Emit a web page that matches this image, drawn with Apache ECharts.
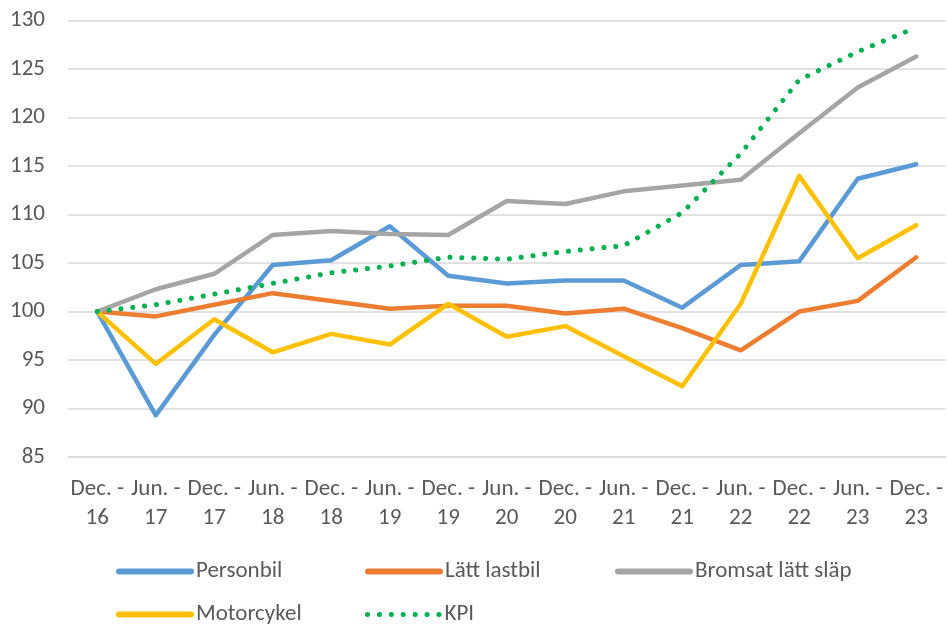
<!DOCTYPE html>
<html>
<head>
<meta charset="utf-8">
<title>Index</title>
<script src="https://cdn.jsdelivr.net/npm/echarts@6/dist/echarts.min.js"></script>
<style>
	html, body { margin: 0; padding: 0; background: #fff; }
	#chart { width: 947px; height: 627px; }
</style>
</head>
<body>
<div id="chart"></div>
<script>
var months = ['Dec. -\n16', 'Jun. -\n17', 'Dec. -\n17', 'Jun. -\n18', 'Dec. -\n18', 'Jun. -\n19', 'Dec. -\n19', 'Jun. -\n20',
	'Dec. -\n20', 'Jun. -\n21', 'Dec. -\n21', 'Jun. -\n22', 'Dec. -\n22', 'Jun. -\n23', 'Dec. -\n23'];
var personbil = [100, 89.3, 97.6, 104.8, 105.3, 108.8, 103.7, 102.9, 103.2, 103.2, 100.4, 104.8, 105.2, 113.7, 115.2];
var lattLastbil = [100, 99.5, 100.7, 101.9, 101.1, 100.3, 100.6, 100.6, 99.8, 100.3, 98.3, 96.0, 100, 101.1, 105.6];
var bromsatSlap = [100, 102.3, 103.9, 107.9, 108.3, 108.0, 107.9, 111.4, 111.1, 112.4, 113.0, 113.6, 118.4, 123.1, 126.3];
var motorcykel = [100, 94.6, 99.2, 95.8, 97.7, 96.6, 100.8, 97.4, 98.5, 95.4, 92.3, 100.8, 114.0, 105.5, 108.9];
var kpi = [100, 100.7, 101.8, 102.9, 104.0, 104.7, 105.6, 105.4, 106.2, 106.8, 110.2, 116.3, 123.9, 126.8, 129.3];

var txt = '#595959';
var font = "Carlito, 'Liberation Sans', sans-serif";
var dots = [0.1, 11.8];

function serie(name, data, color, type) {
	return {
		name: name,
		type: 'line',
		data: data,
		symbol: 'none',
		lineStyle: {
			color: color,
			width: type ? 5 : 4.5,
			type: type || 'solid',
			cap: 'round',
			join: 'round'
		},
		itemStyle: { color: color }
	};
}

// one legend per item so the columns line up like the original
function leg(name, left, top, type) {
	return {
		data: [name],
		left: left,
		top: top,
		padding: 0,
		itemWidth: 72,
		itemHeight: 14,
		itemStyle: { opacity: 0 },
		lineStyle: {
			width: type ? 5 : 6,
			type: type || 'solid',
			cap: 'round'
		},
		textStyle: { color: txt, fontSize: 23, fontFamily: font }
	};
}

var myChart = echarts.init(document.getElementById('chart'));
var option = {
	animation: false,
	backgroundColor: '#fff',
	grid: {
		left: 68,
		right: 1.5,
		top: 20.7,
		bottom: 170
	},
	legend: [
		leg('Personbil', 116, 560),
		leg('Lätt lastbil', 365, 560),
		leg('Bromsat lätt släp', 615, 560),
		leg('Motorcykel', 116, 603),
		leg('KPI', 365, 603, dots)
	],
	xAxis: {
		type: 'category',
		data: months,
		boundaryGap: true,
		axisTick: { show: false },
		axisLine: { lineStyle: { color: '#d9d9d9', width: 1.5 } },
		axisLabel: {
			interval: 0,
			margin: 18,
			color: txt,
			fontSize: 23,
			lineHeight: 29,
			fontFamily: font
		}
	},
	yAxis: {
		type: 'value',
		min: 85,
		max: 130,
		interval: 5,
		axisLine: { show: false },
		axisTick: { show: false },
		splitLine: { lineStyle: { color: '#d9d9d9', width: 1.5 } },
		axisLabel: {
			margin: 23,
			color: txt,
			fontSize: 23,
			fontFamily: font
		}
	},
	series: [
		serie('Personbil', personbil, '#5B9BD5'),
		serie('Lätt lastbil', lattLastbil, '#ED7D31'),
		serie('Bromsat lätt släp', bromsatSlap, '#A5A5A5'),
		serie('Motorcykel', motorcykel, '#FFC000'),
		serie('KPI', kpi, '#00B050', dots)
	]
};
myChart.setOption(option);
</script>
</body>
</html>
